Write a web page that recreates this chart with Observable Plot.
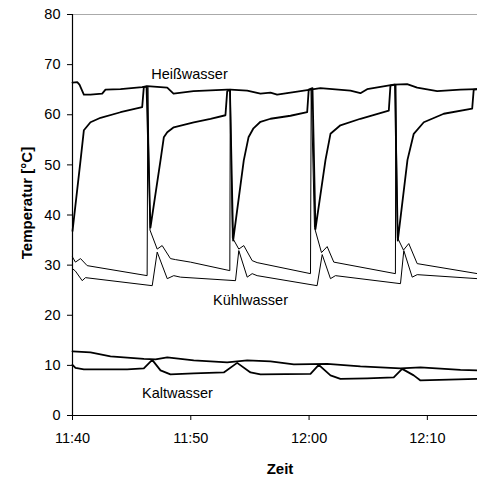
<!DOCTYPE html>
<html>
<head>
<meta charset="utf-8">
<script src="https://cdn.jsdelivr.net/npm/d3@7"></script>
<script src="https://cdn.jsdelivr.net/npm/@observablehq/plot@0.6"></script>
<style>
  html, body { margin: 0; padding: 0; background: #fff; }
  #chart { width: 477px; height: 477px; }
</style>
</head>
<body>
<div id="chart"></div>
<script>
// time in minutes after 11:40, temperature in °C
const xTicks = [0, 10, 20, 30];
const xTickLabels = ["11:40", "11:50", "12:00", "12:10"];
const yTicks = [0, 10, 20, 30, 40, 50, 60, 70, 80];

const heissT = [0, 0.40, 0.59, 0.96, 1.52, 2.51, 2.79, 4.06, 5.89, 6.31, 8.01, 8.54, 10.23, 13.08, 13.36, 14.77, 15.89, 16.74, 17.30, 20.12, 20.96, 23.50, 24.34, 24.91, 27.16, 28.29, 29.14, 30.83, 32.80, 34.24];
const heissV = [66.4, 66.5, 66.0, 64.0, 64.0, 64.2, 65.0, 65.1, 65.5, 65.7, 65.4, 64.2, 64.7, 65.0, 65.0, 64.8, 64.2, 64.4, 64.0, 65.0, 65.3, 64.8, 64.3, 65.1, 66.0, 66.1, 65.4, 64.7, 65.0, 65.1];

const zyklT = [0, 0.68, 0.96, 1.52, 2.37, 4.06, 5.89, 6.03, 6.26, 6.59, 7.44, 7.72, 8.01, 8.56, 10.25, 11.67, 12.93, 13.08, 13.31, 13.58, 14.48, 14.88, 15.30, 15.89, 16.74, 18.43, 19.84, 19.97, 20.29, 20.54, 21.39, 21.81, 22.65, 24.34, 26.74, 26.88, 27.26, 27.50, 28.32, 28.85, 29.70, 31.39, 33.79, 33.92, 34.24];
const zyklV = [36.8, 50.9, 56.9, 58.5, 59.4, 60.5, 61.5, 65.5, 65.6, 37.5, 50.9, 55.5, 56.5, 57.5, 58.5, 59.2, 59.9, 64.7, 65.0, 34.9, 50.9, 55.5, 57.3, 58.6, 59.2, 59.8, 60.5, 65.0, 65.3, 37.2, 51.0, 56.2, 57.9, 59.2, 60.8, 65.8, 66.0, 34.9, 51.0, 56.2, 58.5, 60.2, 61.2, 65.0, 65.1];

const kuehl1T = [0, 0.25, 0.68, 1.24, 6.31, 6.37, 6.55, 7.16, 7.58, 8.28, 8.71, 9.97, 13.30, 13.34, 13.52, 14.06, 14.48, 15.19, 15.61, 20.12, 20.18, 20.46, 21.05, 21.53, 22.09, 27.30, 27.33, 27.47, 27.98, 28.43, 29.14, 34.24];
const kuehl1V = [31.6, 30.6, 31.3, 29.9, 27.9, 65.5, 37.0, 33.2, 33.9, 31.3, 31.1, 30.6, 28.9, 65.0, 35.5, 33.2, 33.9, 30.9, 30.5, 28.3, 65.0, 37.5, 32.5, 33.7, 30.6, 28.3, 66.0, 35.5, 33.0, 34.3, 30.3, 28.3];

const kuehl2T = [0, 0.25, 0.82, 1.10, 6.74, 7.16, 8.01, 8.56, 9.13, 13.78, 14.06, 14.77, 15.19, 15.61, 20.68, 21.11, 21.81, 22.23, 27.73, 28.01, 28.72, 29.14, 34.24];
const kuehl2V = [29.3, 28.8, 26.9, 27.5, 25.9, 32.6, 27.3, 27.9, 27.6, 26.9, 32.9, 27.6, 28.3, 27.9, 25.9, 32.1, 27.3, 27.9, 26.3, 32.9, 27.6, 28.1, 27.3];

const kalt1T = [0, 1.52, 3.21, 6.03, 7.02, 8.01, 10.25, 13.08, 14.77, 16.74, 18.71, 21.53, 24.34, 27.73, 29.42, 32.80, 34.24];
const kalt1V = [12.8, 12.6, 11.8, 11.3, 11.2, 11.6, 11.0, 10.6, 11.0, 10.8, 10.2, 10.3, 9.8, 9.4, 9.6, 9.1, 9.0];

const kalt2T = [0, 0.25, 0.96, 4.62, 6.03, 6.74, 7.44, 8.28, 10.25, 12.79, 13.92, 15.05, 15.89, 20.12, 20.82, 21.81, 22.65, 24.91, 27.16, 27.87, 28.85, 29.42, 34.24];
const kalt2V = [10.1, 9.5, 9.2, 9.2, 9.4, 11.1, 9.0, 8.2, 8.4, 8.6, 10.5, 8.6, 8.2, 8.3, 10.1, 8.0, 7.3, 7.4, 7.6, 9.3, 8.0, 7.0, 7.3];

const labelText = ["Heißwasser", "Kühlwasser", "Kaltwasser"];
const labelT = [9.89, 15.05, 8.87];
const labelV = [68.0, 22.9, 4.5];

const zip = (T, V) => T.map((t, i) => ({t, v: V[i]}));
const labels = labelText.map((s, i) => ({s, t: labelT[i], v: labelV[i]}));

const thick = 1.8, thin = 1;
const chart = Plot.plot({
  width: 477,
  height: 477,
  marginLeft: 72,
  marginRight: 0,
  marginTop: 14,
  marginBottom: 62,
  style: {fontFamily: "'Liberation Sans', Arial, sans-serif", fontSize: "14.5px", color: "#000", background: "#fff"},
  x: {domain: [0, 34.24]},
  y: {domain: [0, 80]},
  marks: [
    Plot.ruleY([80], {stroke: "#aaaaaa", strokeWidth: 1.2}),
    Plot.axisY({ticks: yTicks, tickSize: 5, tickPadding: 7, label: null, stroke: "#000"}),
    Plot.axisX({ticks: xTicks, tickFormat: (d) => xTickLabels[xTicks.indexOf(d)], tickSize: 5, tickPadding: 12, label: null, stroke: "#000"}),
    Plot.line(zip(kuehl1T, kuehl1V), {x: "t", y: "v", stroke: "#000", strokeWidth: thin}),
    Plot.line(zip(kuehl2T, kuehl2V), {x: "t", y: "v", stroke: "#000", strokeWidth: thin}),
    Plot.line(zip(zyklT, zyklV), {x: "t", y: "v", stroke: "#000", strokeWidth: thick}),
    Plot.line(zip(heissT, heissV), {x: "t", y: "v", stroke: "#000", strokeWidth: thick}),
    Plot.line(zip(kalt1T, kalt1V), {x: "t", y: "v", stroke: "#000", strokeWidth: thick}),
    Plot.line(zip(kalt2T, kalt2V), {x: "t", y: "v", stroke: "#000", strokeWidth: thick}),
    Plot.ruleX([0], {stroke: "#000", strokeWidth: 1.2}),
    Plot.ruleY([0], {stroke: "#000", strokeWidth: 1.2}),
    Plot.text(labels, {x: "t", y: "v", text: "s", fill: "#000", fontSize: 14.5}),
    Plot.text(["Temperatur [°C]"], {frameAnchor: "left", textAnchor: "middle", lineAnchor: "middle", rotate: -90, dx: -45, dy: -12, fontWeight: "bold", fontSize: 15, fill: "#000"}),
    Plot.text(["Zeit"], {frameAnchor: "bottom", textAnchor: "middle", lineAnchor: "middle", dx: 5, dy: 53.5, fontWeight: "bold", fontSize: 15, fill: "#000"})
  ]
});
document.getElementById("chart").appendChild(chart);
</script>
</body>
</html>
